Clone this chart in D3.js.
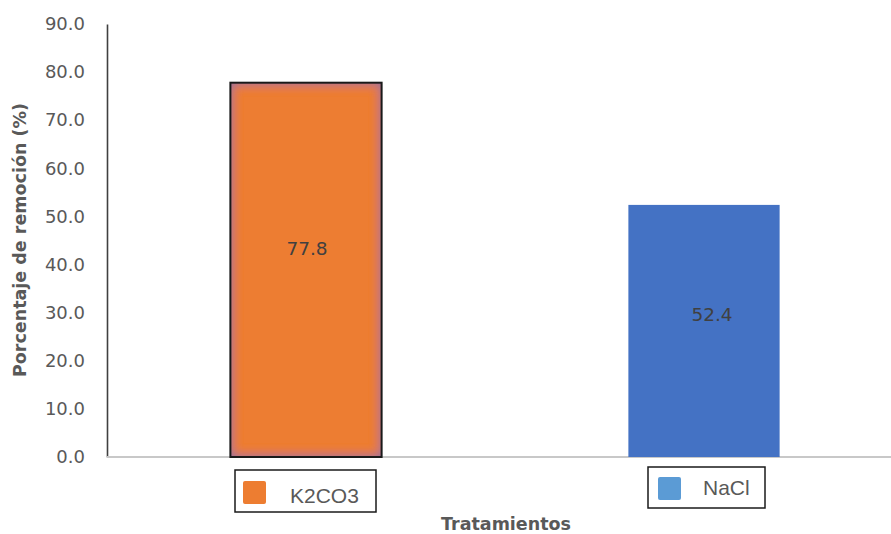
<!DOCTYPE html>
<html>
<head>
<meta charset="utf-8">
<script src="https://cdn.jsdelivr.net/npm/d3@7"></script>
<style>
  html, body { margin: 0; padding: 0; background: #fff; }
  svg { display: block; }
</style>
</head>
<body>
<svg id="chart" width="891" height="534"></svg>
<script>
// Removal percentage by treatment
const categories = ["K2CO3", "NaCl"];
const values = [77.8, 52.4];
const barColors = ["#ED7D31", "#4472C4"];
const swatchColors = ["#ED7D31", "#5B9BD5"];
const yTicks = [0, 10, 20, 30, 40, 50, 60, 70, 80, 90];

const svg = d3.select("#chart");

const y = d3.scaleLinear().domain([0, 90]).range([457, 24]);
const x = d3.scaleBand().domain(categories).range([107, 903])
  .paddingInner(0.62).paddingOuter(0.31);

// Soft inner glow for the first bar
const defs = svg.append("defs");
const f = defs.append("filter").attr("id", "innerGlow")
  .attr("x", "-10%").attr("y", "-10%").attr("width", "120%").attr("height", "120%");
f.append("feFlood").attr("flood-color", "#6a6ca8").attr("result", "c");
f.append("feComposite").attr("in", "c").attr("in2", "SourceAlpha").attr("operator", "out").attr("result", "inv");
f.append("feGaussianBlur").attr("in", "inv").attr("stdDeviation", 6).attr("result", "blur");
f.append("feComposite").attr("in", "blur").attr("in2", "SourceAlpha").attr("operator", "in").attr("result", "glow");
const m = f.append("feMerge");
m.append("feMergeNode").attr("in", "SourceGraphic");
m.append("feMergeNode").attr("in", "glow");

// Y axis
const yAxis = d3.axisLeft(y).tickValues(yTicks).tickFormat(d3.format(".1f")).tickSize(0).tickPadding(22);
const gy = svg.append("g").attr("transform", "translate(107,0)").call(yAxis);
gy.select(".domain").attr("stroke", "#404040").attr("stroke-width", 1.6);
gy.selectAll("text")
  .attr("fill", "#595959")
  .style("font-family", "'DejaVu Sans', sans-serif")
  .style("font-size", "18px");

// X baseline
svg.append("line")
  .attr("x1", 107).attr("x2", 891)
  .attr("y1", y(0)).attr("y2", y(0))
  .attr("stroke", "#c8c8c8").attr("stroke-width", 2);

// Bars
const data = categories.map((c, i) => ({ c, v: values[i], color: barColors[i], swatch: swatchColors[i], i }));

svg.selectAll("rect.bar").data(data).join("rect")
  .attr("class", "bar")
  .attr("x", d => x(d.c))
  .attr("y", d => y(d.v))
  .attr("width", x.bandwidth())
  .attr("height", d => y(0) - y(d.v))
  .attr("fill", d => d.color)
  .attr("filter", d => d.i === 0 ? "url(#innerGlow)" : null);

// Dark outline on the first bar
svg.selectAll("rect.outline").data(data.filter(d => d.i === 0)).join("rect")
  .attr("class", "outline")
  .attr("x", d => x(d.c))
  .attr("y", d => y(d.v))
  .attr("width", x.bandwidth())
  .attr("height", d => y(0) - y(d.v))
  .attr("fill", "none")
  .attr("stroke", "#1a1a1a")
  .attr("stroke-width", 2);

// Value labels, a little above the bar middle
const labelDx = [1, 8];
svg.selectAll("text.val").data(data).join("text")
  .attr("class", "val")
  .attr("x", d => x(d.c) + x.bandwidth() / 2 + labelDx[d.i])
  .attr("y", d => y(d.v * 0.54))
  .attr("text-anchor", "middle")
  .attr("fill", "#404040")
  .style("font-family", "'DejaVu Sans', sans-serif")
  .style("font-size", "18.5px")
  .text(d => d.v.toFixed(1));

// Per-category legend boxes
const legendBoxes = [
  { x: 235, y: 470, w: 141, h: 42, sx: 8, sy: 11, ty: 33 },
  { x: 648, y: 467, w: 117, h: 41, sx: 10, sy: 10, ty: 28 }
];
data.forEach((d, i) => {
  const b = legendBoxes[i];
  const g = svg.append("g").attr("transform", `translate(${b.x},${b.y})`);
  g.append("rect").attr("width", b.w).attr("height", b.h)
    .attr("fill", "#fff").attr("stroke", "#1a1a1a").attr("stroke-width", 1.5);
  g.append("rect").attr("x", b.sx).attr("y", b.sy).attr("width", 23).attr("height", 23)
    .attr("rx", 2).attr("fill", d.swatch);
  g.append("text").attr("x", 55).attr("y", b.ty)
    .attr("fill", "#595959")
    .style("font-family", "'Liberation Sans', Arial, sans-serif")
    .style("font-size", "21px")
    .text(d.c);
});

// Axis titles
svg.append("text")
  .attr("x", 506).attr("y", 530)
  .attr("text-anchor", "middle")
  .attr("fill", "#595959")
  .style("font-family", "'DejaVu Sans', sans-serif")
  .style("font-weight", "bold")
  .style("font-size", "17.5px")
  .text("Tratamientos");

svg.append("text")
  .attr("transform", "translate(26,240) rotate(-90)")
  .attr("text-anchor", "middle")
  .attr("fill", "#595959")
  .style("font-family", "'DejaVu Sans', sans-serif")
  .style("font-weight", "bold")
  .style("font-size", "17.5px")
  .text("Porcentaje de remoción (%)");
</script>
</body>
</html>
